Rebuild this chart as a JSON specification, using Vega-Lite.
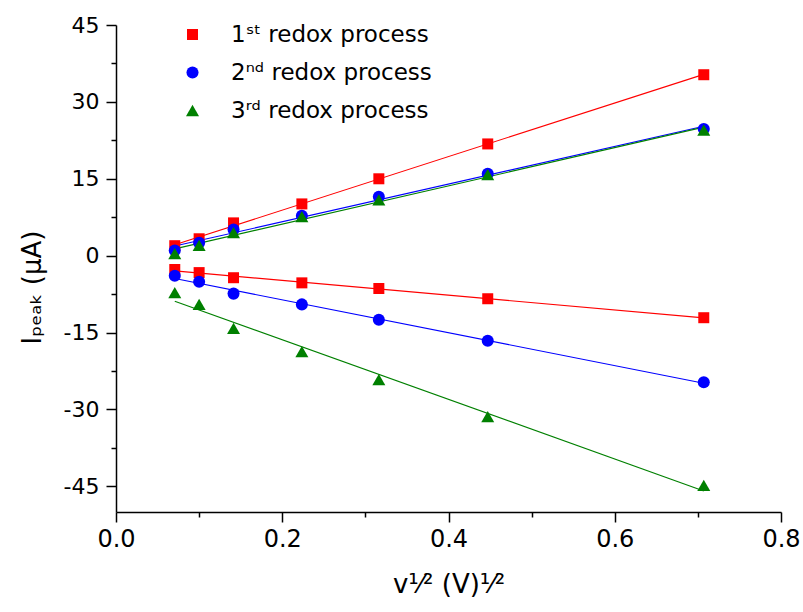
{
  "$schema": "https://vega.github.io/schema/vega-lite/v6.json",
  "autosize": {"type": "none"},
  "padding": {"left": 116, "top": 25, "right": 22, "bottom": 100},
  "width": 665,
  "height": 487,
  "background": "white",
  "config": {
    "view": {"stroke": null},
    "font": "DejaVu Sans",
    "axis": {
      "grid": false,
      "labelFont": "DejaVu Sans",
      "labelColor": "black",
      "titleFont": "DejaVu Sans",
      "titleFontSize": 26,
      "titleFontWeight": "normal",
      "titleColor": "black",
      "domainColor": "black",
      "domainWidth": 1.5,
      "tickColor": "black",
      "tickWidth": 1.5
    },
    "legend": {
      "orient": "none",
      "legendX": 65,
      "legendY": -2,
      "padding": 0,
      "labelFont": "DejaVu Sans",
      "labelFontSize": 23,
      "labelColor": "black",
      "labelOffset": 27,
      "labelLimit": 0,
      "rowPadding": 14,
      "symbolOpacity": 1
    }
  },
  "data": {
    "values": [
      {"x": 0.0707, "y": 1.95, "series": "1st", "branch": "ox"},
      {"x": 0.1, "y": 3.3, "series": "1st", "branch": "ox"},
      {"x": 0.1414, "y": 6.4, "series": "1st", "branch": "ox"},
      {"x": 0.2236, "y": 10.1, "series": "1st", "branch": "ox"},
      {"x": 0.3162, "y": 15.0, "series": "1st", "branch": "ox"},
      {"x": 0.4472, "y": 21.8, "series": "1st", "branch": "ox"},
      {"x": 0.7071, "y": 35.3, "series": "1st", "branch": "ox"},
      {"x": 0.0707, "y": -2.7, "series": "1st", "branch": "red"},
      {"x": 0.1, "y": -3.3, "series": "1st", "branch": "red"},
      {"x": 0.1414, "y": -4.3, "series": "1st", "branch": "red"},
      {"x": 0.2236, "y": -5.3, "series": "1st", "branch": "red"},
      {"x": 0.3162, "y": -6.4, "series": "1st", "branch": "red"},
      {"x": 0.4472, "y": -8.4, "series": "1st", "branch": "red"},
      {"x": 0.7071, "y": -12.1, "series": "1st", "branch": "red"},
      {"x": 0.0707, "y": 1.0, "series": "2nd", "branch": "ox"},
      {"x": 0.1, "y": 2.5, "series": "2nd", "branch": "ox"},
      {"x": 0.1414, "y": 5.1, "series": "2nd", "branch": "ox"},
      {"x": 0.2236, "y": 7.8, "series": "2nd", "branch": "ox"},
      {"x": 0.3162, "y": 11.5, "series": "2nd", "branch": "ox"},
      {"x": 0.4472, "y": 16.0, "series": "2nd", "branch": "ox"},
      {"x": 0.7071, "y": 24.7, "series": "2nd", "branch": "ox"},
      {"x": 0.0707, "y": -3.9, "series": "2nd", "branch": "red"},
      {"x": 0.1, "y": -5.1, "series": "2nd", "branch": "red"},
      {"x": 0.1414, "y": -7.4, "series": "2nd", "branch": "red"},
      {"x": 0.2236, "y": -9.5, "series": "2nd", "branch": "red"},
      {"x": 0.3162, "y": -12.5, "series": "2nd", "branch": "red"},
      {"x": 0.4472, "y": -16.6, "series": "2nd", "branch": "red"},
      {"x": 0.7071, "y": -24.7, "series": "2nd", "branch": "red"},
      {"x": 0.0707, "y": 0.4, "series": "3rd", "branch": "ox"},
      {"x": 0.1, "y": 2.0, "series": "3rd", "branch": "ox"},
      {"x": 0.1414, "y": 4.5, "series": "3rd", "branch": "ox"},
      {"x": 0.2236, "y": 7.6, "series": "3rd", "branch": "ox"},
      {"x": 0.3162, "y": 10.9, "series": "3rd", "branch": "ox"},
      {"x": 0.4472, "y": 15.8, "series": "3rd", "branch": "ox"},
      {"x": 0.7071, "y": 24.5, "series": "3rd", "branch": "ox"},
      {"x": 0.0707, "y": -7.2, "series": "3rd", "branch": "red"},
      {"x": 0.1, "y": -9.5, "series": "3rd", "branch": "red"},
      {"x": 0.1414, "y": -14.2, "series": "3rd", "branch": "red"},
      {"x": 0.2236, "y": -18.7, "series": "3rd", "branch": "red"},
      {"x": 0.3162, "y": -24.2, "series": "3rd", "branch": "red"},
      {"x": 0.4472, "y": -31.4, "series": "3rd", "branch": "red"},
      {"x": 0.7071, "y": -44.8, "series": "3rd", "branch": "red"}
    ]
  },
  "resolve": {"axis": {"x": "independent", "y": "independent"}},
  "layer": [
    {
      "transform": [
        {"filter": "datum.series == '1st'"},
        {"regression": "y", "on": "x", "groupby": ["branch"], "extent": [0.0707, 0.7071]}
      ],
      "mark": {"type": "line", "strokeWidth": 1.1, "color": "#ff0000"},
      "encoding": {
        "x": {
          "field": "x",
          "type": "quantitative",
          "scale": {"domain": [0, 0.8], "nice": false, "zero": false},
          "axis": {
            "orient": "bottom",
            "title": null,
            "labels": false,
            "domain": false,
            "values": [0.1, 0.3, 0.5, 0.7],
            "tickSize": 5
          }
        },
        "y": {
          "field": "y",
          "type": "quantitative",
          "scale": {"domain": [-50, 45], "nice": false, "zero": false},
          "axis": {
            "orient": "left",
            "title": null,
            "labels": false,
            "domain": false,
            "values": [-37.5, -22.5, -7.5, 7.5, 22.5, 37.5],
            "tickSize": 5
          }
        },
        "detail": {"field": "branch"}
      }
    },
    {
      "transform": [
        {"filter": "datum.series == '2nd'"},
        {"regression": "y", "on": "x", "groupby": ["branch"], "extent": [0.0707, 0.7071]}
      ],
      "mark": {"type": "line", "strokeWidth": 1.1, "color": "#0000ff"},
      "encoding": {
        "x": {"field": "x", "type": "quantitative", "axis": null},
        "y": {"field": "y", "type": "quantitative", "axis": null},
        "detail": {"field": "branch"}
      }
    },
    {
      "transform": [
        {"filter": "datum.series == '3rd'"},
        {"regression": "y", "on": "x", "groupby": ["branch"], "extent": [0.0707, 0.7071]}
      ],
      "mark": {"type": "line", "strokeWidth": 1.1, "color": "#008000"},
      "encoding": {
        "x": {"field": "x", "type": "quantitative", "axis": null},
        "y": {"field": "y", "type": "quantitative", "axis": null},
        "detail": {"field": "branch"}
      }
    },
    {
      "mark": {"type": "point", "filled": true, "opacity": 1},
      "encoding": {
        "x": {
          "field": "x",
          "type": "quantitative",
          "axis": {
            "orient": "bottom",
            "title": "v¹⁄² (V)¹⁄²",
            "values": [0, 0.2, 0.4, 0.6, 0.8],
            "format": ".1f",
            "labelFlush": false,
            "labelFontSize": 24,
            "tickSize": 10,
            "labelPadding": 5,
            "titlePadding": 20
          }
        },
        "y": {
          "field": "y",
          "type": "quantitative",
          "axis": {
            "orient": "left",
            "title": "Iₚₑₐₖ (μA)",
            "values": [-45, -30, -15, 0, 15, 30, 45],
            "labelExpr": "(datum.value < 0 ? '-' : '') + format(abs(datum.value), 'd')",
            "labelFlush": false,
            "labelFontSize": 22,
            "tickSize": 10,
            "labelPadding": 7,
            "titlePadding": 18,
            "titleY": 262
          }
        },
        "color": {
          "field": "series",
          "type": "nominal",
          "scale": {"domain": ["1st", "2nd", "3rd"], "range": ["#ff0000", "#0000ff", "#008000"]},
          "legend": {
            "title": null,
            "labelExpr": "datum.label == '1st' ? '1ˢᵗ redox process' : datum.label == '2nd' ? '2ⁿᵈ redox process' : '3ʳᵈ redox process'"
          }
        },
        "shape": {
          "field": "series",
          "type": "nominal",
          "scale": {"domain": ["1st", "2nd", "3rd"], "range": ["square", "circle", "triangle-up"]},
          "legend": {
            "title": null,
            "labelExpr": "datum.label == '1st' ? '1ˢᵗ redox process' : datum.label == '2nd' ? '2ⁿᵈ redox process' : '3ʳᵈ redox process'"
          }
        },
        "size": {
          "field": "series",
          "type": "nominal",
          "scale": {"domain": ["1st", "2nd", "3rd"], "range": [121, 169, 216]},
          "legend": {
            "title": null,
            "labelExpr": "datum.label == '1st' ? '1ˢᵗ redox process' : datum.label == '2nd' ? '2ⁿᵈ redox process' : '3ʳᵈ redox process'"
          }
        }
      }
    }
  ]
}
